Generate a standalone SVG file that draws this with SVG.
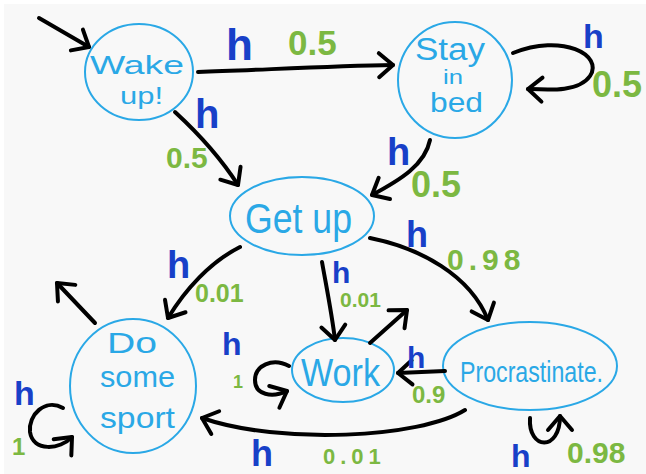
<svg xmlns="http://www.w3.org/2000/svg" width="646" height="474" viewBox="0 0 646 474">
<defs>
<marker id="arr" viewBox="-18 -16 22 32" refX="0" refY="0" markerWidth="22" markerHeight="32" markerUnits="userSpaceOnUse" orient="auto">
<path d="M-14,-12 L0,0 L-14,12" fill="none" stroke="#000" stroke-width="4" stroke-linecap="round" stroke-linejoin="round"/>
</marker>
<style>
.node{fill:none;stroke:#2aa8e6;stroke-width:2}
.nt{font-family:"Liberation Sans",Arial,sans-serif;fill:#2aa8e6}
.edge{fill:none;stroke:#000;stroke-width:4;stroke-linecap:round;marker-end:url(#arr)}
.h{font-family:"Liberation Sans",Arial,sans-serif;font-weight:bold;fill:#1840c8}
.p{font-family:"Liberation Sans",Arial,sans-serif;font-weight:bold;fill:#7cb842}
</style>
</defs>
<rect width="646" height="474" fill="#ffffff"/>
<rect x="4" y="4" width="642" height="470" fill="#f8f8f8"/>

<g id="wake">
<ellipse class="node" cx="139" cy="72" rx="54" ry="48"/>
<text class="nt" x="90" y="74" font-size="26" textLength="94" lengthAdjust="spacingAndGlyphs">Wake</text>
<text class="nt" x="120" y="104" font-size="24" textLength="43" lengthAdjust="spacingAndGlyphs">up!</text>
</g>
<g id="stay">
<ellipse class="node" cx="455" cy="80" rx="57" ry="58"/>
<text class="nt" x="415" y="60" font-size="31" textLength="70" lengthAdjust="spacingAndGlyphs">Stay</text>
<text class="nt" x="443" y="84" font-size="21" textLength="20" lengthAdjust="spacingAndGlyphs">in</text>
<text class="nt" x="430" y="112" font-size="27" textLength="53" lengthAdjust="spacingAndGlyphs">bed</text>
</g>
<g id="getup">
<ellipse class="node" cx="302" cy="216" rx="72" ry="39"/>
<text class="nt" x="245" y="233" font-size="42" textLength="107" lengthAdjust="spacingAndGlyphs">Get up</text>
</g>
<g id="sport">
<ellipse class="node" cx="133" cy="386" rx="63" ry="67"/>
<text class="nt" x="107" y="353" font-size="30" textLength="50" lengthAdjust="spacingAndGlyphs">Do</text>
<text class="nt" x="100" y="387" font-size="30" textLength="75" lengthAdjust="spacingAndGlyphs">some</text>
<text class="nt" x="100" y="428" font-size="30" textLength="75" lengthAdjust="spacingAndGlyphs">sport</text>
</g>
<g id="work">
<ellipse class="node" cx="343" cy="370" rx="51" ry="32"/>
<text class="nt" x="301" y="386" font-size="38" textLength="79" lengthAdjust="spacingAndGlyphs">Work</text>
</g>
<g id="procrastinate">
<ellipse class="node" cx="530" cy="366" rx="87" ry="44"/>
<text class="nt" x="460" y="382" font-size="30" textLength="143" lengthAdjust="spacingAndGlyphs">Procrastinate.</text>
</g>

<g id="connectors">
<path class="edge" d="M39,18 L89,47"/>
<path class="edge" d="M198,72 C260,70 330,66 393,65"/>
<path class="edge" d="M175,112 C200,135 222,160 238,185"/>
<path class="edge" d="M513,53 C562,33 604,55 590,76 C579,92 550,90 528,89"/>
<path class="edge" d="M430,140 C425,165 400,180 372,195"/>
<path class="edge" d="M240,247 C210,262 185,290 168,318"/>
<path class="edge" d="M95,323 L57,283"/>
<path class="edge" d="M322,262 C327,290 332,315 335,340"/>
<path class="edge" d="M370,343 L407,310"/>
<path class="edge" d="M289,366 C272,357 255,366 255,380 C255,395 272,398 287,391"/>
<path class="edge" d="M445,371 L398,373"/>
<path class="edge" d="M370,238 C420,248 470,275 488,320"/>
<path class="edge" d="M465,410 C420,438 280,445 202,418"/>
<path class="edge" d="M530,418 C528,450 560,452 560,416"/>
<path class="edge" d="M63,408 C45,398 28,415 30,432 C33,452 60,450 72,437"/>
</g>

<g id="labels">
<text class="h" x="226" y="60" font-size="44">h</text>
<text class="p" x="288" y="55" font-size="35">0.5</text>
<text class="h" x="195" y="128" font-size="40">h</text>
<text class="p" x="166" y="168" font-size="30">0.5</text>
<text class="h" x="583" y="48" font-size="34">h</text>
<text class="p" x="592" y="97" font-size="36">0.5</text>
<text class="h" x="387" y="165" font-size="38">h</text>
<text class="p" x="411" y="197" font-size="36">0.5</text>
<text class="h" x="167" y="278" font-size="38">h</text>
<text class="p" x="195" y="302" font-size="25">0.01</text>
<text class="h" x="332" y="283" font-size="30">h</text>
<text class="p" x="340" y="307" font-size="21">0.01</text>
<text class="h" x="406" y="247" font-size="36">h</text>
<text class="p" x="447" y="270" font-size="30" letter-spacing="5">0.98</text>
<text class="h" x="222" y="355" font-size="32">h</text>
<text class="p" x="233" y="388" font-size="18">1</text>
<text class="h" x="407" y="368" font-size="30">h</text>
<text class="p" x="412" y="403" font-size="24">0.9</text>
<text class="h" x="251" y="466" font-size="36">h</text>
<text class="p" x="323" y="464" font-size="22" letter-spacing="5">0.01</text>
<text class="h" x="511" y="467" font-size="32">h</text>
<text class="p" x="567" y="463" font-size="30">0.98</text>
<text class="h" x="14" y="405" font-size="34">h</text>
<text class="p" x="12" y="455" font-size="24">1</text>
</g>
</svg>
